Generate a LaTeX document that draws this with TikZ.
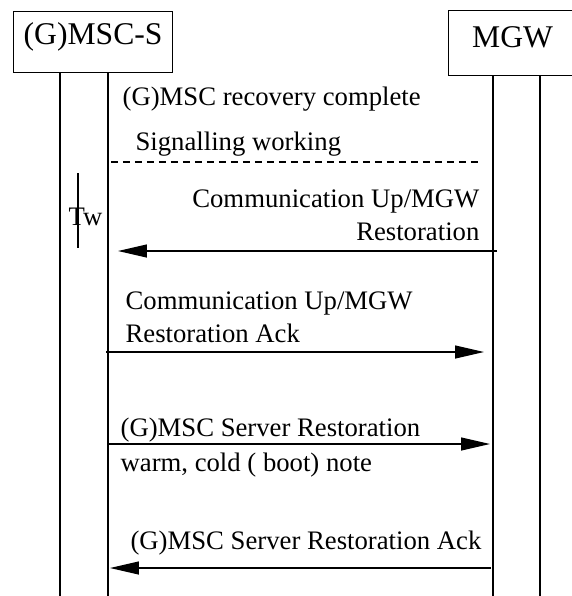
\documentclass[tikz,border=0pt]{standalone}
\usepackage{fontspec}
\setmainfont{Liberation Serif}
\usetikzlibrary{arrows.meta,positioning}

\begin{document}
\begin{tikzpicture}[x=0.02cm,y=-0.02cm,line width=0.7pt,>={Triangle[length=0.58cm,width=0.26cm]},
  every node/.style={font=\fontsize{15.2}{18.6}\selectfont, inner sep=0pt}]
\tikzstyle{entity}=[draw, font=\fontsize{18}{21}\selectfont, text depth=0.56cm]
\tikzstyle{lbl}=[anchor=base west, align=left]
\tikzstyle{rlbl}=[anchor=base east, align=right]
\useasboundingbox (0,0) rectangle (572,596);
% entities
\node[entity, minimum width=3.18cm, text height=0.66cm, anchor=north west] (msc) at (13,11) {(G)MSC-S};
\node[entity, minimum width=2.56cm, text height=0.74cm, anchor=north west] (mgw) at (448,10) {MGW};
% lifelines
\foreach \x in {60,108} \draw (\x,72) -- (\x,600);
\foreach \x in {493,540} \draw (\x,75) -- (\x,600);
% recovery
\node[lbl] (rec) at (122,105) {(G)MSC recovery complete};
\node[lbl] (sig) at (135,150) {Signalling working};
\coordinate (sigL) at (111,162);
\coordinate (sigR) at (480,162);
\draw[dash pattern=on 0.14cm off 0.1cm] (sigL) -- (sigR);
% timer
\node[anchor=base west] (tw) at (68,225) {Tw};
\coordinate (twT) at (78,173);
\coordinate (twB) at (78,248);
\draw (twT) -- (twB);
% messages
\node[rlbl] (up) at (480,240) {Communication Up/MGW\\Restoration};
\coordinate (upR) at (497,251);
\coordinate (upL) at (118,251);
\draw[->] (upR) -- (upL);
\node[lbl] (upack) at (125,342) {Communication Up/MGW\\Restoration Ack};
\coordinate (ackL) at (106,352);
\coordinate (ackR) at (484,352);
\draw[->] (ackL) -- (ackR);
\node[lbl] (srv) at (120,436) {(G)MSC Server Restoration};
\node[lbl] (note) at (120,471) {warm, cold ( boot) note};
\coordinate (srvL) at (108,444);
\coordinate (srvR) at (490,444);
\draw[->] (srvL) -- (srvR);
\node[rlbl] (srvack) at (482,549) {(G)MSC Server Restoration Ack};
\coordinate (sackR) at (491,568);
\coordinate (sackL) at (110,568);
\draw[->] (sackR) -- (sackL);
\end{tikzpicture}
\end{document}
